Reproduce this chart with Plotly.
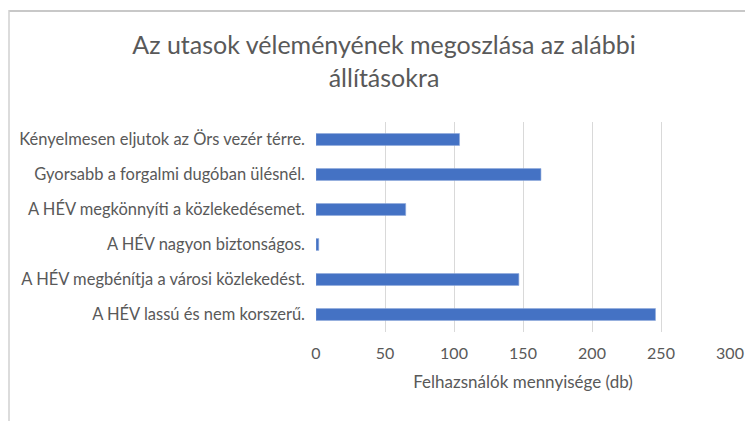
import plotly.graph_objects as go

categories = [
    "Kényelmesen eljutok az Örs vezér térre.",
    "Gyorsabb a forgalmi dugóban ülésnél.",
    "A HÉV megkönnyíti a közlekedésemet.",
    "A HÉV nagyon biztonságos.",
    "A HÉV megbénítja a városi közlekedést.",
    "A HÉV lassú és nem korszerű.",
]
values = [104, 163, 65, 2, 147, 246]
x_ticks = [0, 50, 100, 150, 200, 250, 300]

title_text = "Az utasok véleményének megoszlása az alábbi<br>állításokra"
x_title = "Felhazsnálók mennyisége (db)"

# page is rendered with the default 8px body margin
OFF = 8
W, H = 753 - OFF, 421 - OFF
L, R, T, B = 316 - OFF, 753 - 730, 122 - OFF, 421 - 332
PW, PH = W - L - R, H - T - B


def px_x(p):
    return (p - OFF - L) / PW


def px_y(p):
    return (H - (p - OFF) - B) / PH


fig = go.Figure(
    go.Bar(
        y=categories,
        x=values,
        orientation="h",
        marker=dict(color="#4472C4", line=dict(color="#8FAADC", width=0.6)),
        hoverinfo="x+y",
    )
)

fig.update_layout(
    width=W,
    height=H,
    margin=dict(l=L, r=R, t=T, b=B, autoexpand=False),
    paper_bgcolor="white",
    plot_bgcolor="white",
    bargap=0.66,
    showlegend=False,
    font=dict(family="Lato", color="#595959", size=16),
    title=dict(
        text=title_text,
        x=376 / W,
        xanchor="center",
        y=1 - 46 / H,
        yanchor="top",
        yref="container",
        font=dict(family="Lato", size=25, color="#595959"),
    ),
    xaxis=dict(
        range=[0, 300],
        tickvals=x_ticks,
        automargin=False,
        showgrid=True,
        gridcolor="#D9D9D9",
        gridwidth=1,
        zeroline=False,
        showline=False,
        ticks="",
        ticklabelstandoff=10,
        tickfont=dict(size=16, color="#595959"),
        title=dict(text=x_title, font=dict(size=17, color="#595959"), standoff=15),
    ),
    yaxis=dict(
        autorange="reversed",
        automargin=False,
        showgrid=False,
        zeroline=False,
        showline=False,
        ticks="",
        ticklabelstandoff=10,
        tickfont=dict(size=16.5, color="#595959"),
    ),
    shapes=[
        dict(type="line", xref="paper", yref="paper",
             x0=px_x(9), x1=px_x(752),
             y0=px_y(11), y1=px_y(11),
             line=dict(color="#C8C8C8", width=2), layer="above"),
        dict(type="line", xref="paper", yref="paper",
             x0=px_x(9), x1=px_x(9),
             y0=px_y(10), y1=px_y(440),
             line=dict(color="#D0D0D0", width=1.5), layer="above"),
    ],
)

fig.write_html("out.html")
